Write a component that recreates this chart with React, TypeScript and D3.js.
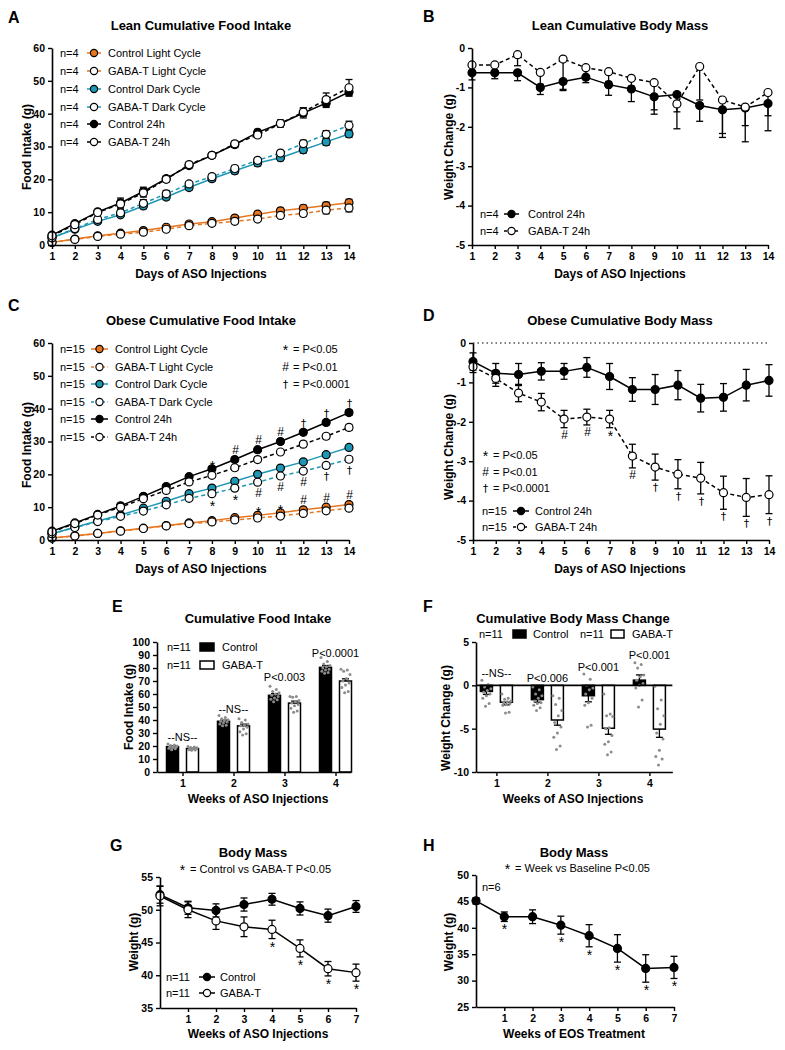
import React, { useEffect, useRef } from "react";
import * as d3 from "d3";

const FONT = "Arial, 'Liberation Sans', Helvetica, sans-serif";
const ORANGE = "#E8761F";
const TEAL = "#1E97B4";
const DOT = "#8c8c8c";

// ---- shared categories ----
const days = [1, 2, 3, 4, 5, 6, 7, 8, 9, 10, 11, 12, 13, 14];
const weeks4 = [1, 2, 3, 4];
const weeks8 = [0, 1, 2, 3, 4, 5, 6, 7];

// ---- A: lean cumulative food intake ----
const aCtrlLight = [0.8, 1.8, 2.8, 3.6, 4.4, 5.4, 6.4, 7.1, 8.2, 9.4, 10.4, 11.2, 12.0, 12.9];
const aCtrlLightErr = [0.2, 0.3, 0.3, 0.4, 0.4, 0.5, 0.5, 0.5, 0.7, 0.8, 0.8, 0.9, 1.0, 1.0];
const aGabaLight = [0.8, 1.7, 2.6, 3.3, 3.9, 4.8, 5.9, 6.6, 7.2, 7.9, 9.0, 9.6, 10.6, 11.3];
const aGabaLightErr = [0.2, 0.3, 0.4, 0.5, 0.5, 0.6, 0.6, 0.6, 0.7, 0.7, 0.8, 0.9, 1.1, 1.2];
const aCtrlDark = [2.2, 4.8, 7.2, 9.2, 11.9, 14.6, 17.5, 20.2, 22.6, 25.0, 26.6, 29.0, 31.4, 33.8];
const aCtrlDarkErr = [0.3, 0.4, 0.6, 0.8, 0.8, 0.8, 0.7, 0.8, 0.9, 0.9, 0.9, 1.0, 1.0, 1.0];
const aGabaDark = [2.2, 5.0, 7.8, 9.8, 12.7, 15.6, 18.6, 20.8, 23.3, 25.8, 28.0, 30.9, 33.7, 36.4];
const aGabaDarkErr = [0.3, 0.5, 0.7, 1.0, 1.1, 1.0, 0.7, 0.8, 0.9, 0.8, 0.8, 1.0, 1.1, 1.3];
const aCtrl24 = [3.0, 6.5, 10.1, 12.8, 16.3, 20.2, 24.2, 27.3, 30.6, 34.3, 37.0, 40.2, 43.2, 46.6];
const aCtrl24Err = [0.5, 0.6, 0.7, 1.5, 1.3, 0.9, 0.7, 0.7, 0.9, 0.9, 1.1, 1.5, 1.3, 1.2];
const aGaba24 = [2.8, 6.2, 9.9, 12.5, 15.9, 20.0, 24.5, 27.3, 30.8, 33.5, 37.0, 40.5, 44.3, 47.9];
const aGaba24Err = [0.4, 0.5, 0.6, 1.2, 1.3, 0.8, 0.7, 0.7, 0.8, 0.7, 0.8, 1.3, 2.0, 2.5];

// ---- B: lean body mass change ----
const bCtrl = [-0.63, -0.63, -0.63, -1.0, -0.85, -0.74, -0.93, -1.04, -1.24, -1.18, -1.46, -1.57, -1.52, -1.41];
const bCtrlErr = [0.18, 0.15, 0.2, 0.18, 0.2, 0.14, 0.27, 0.32, 0.44, 0.87, 0.4, 0.7, 0.86, 0.31];
const bGaba = [-0.43, -0.43, -0.17, -0.62, -0.28, -0.5, -0.6, -0.77, -0.88, -1.42, -0.47, -1.32, -1.5, -1.13];
const bGabaErr = [0.2, 0.15, 0.28, 0.3, 0.8, 0.2, 0.25, 0.2, 0.69, 0.2, 0.85, 0.85, 0.47, 0.97];

// ---- C: obese cumulative food intake ----
const cCtrlLight = [0.6, 1.3, 2.0, 2.8, 3.6, 4.4, 5.2, 5.9, 6.8, 7.5, 8.3, 9.2, 10.0, 10.8];
const cCtrlLightErr = [0.1, 0.2, 0.2, 0.3, 0.3, 0.3, 0.3, 0.3, 0.3, 0.3, 0.4, 0.4, 0.4, 0.4];
const cGabaLight = [0.6, 1.2, 2.0, 2.7, 3.5, 4.3, 5.0, 5.5, 6.1, 6.7, 7.3, 8.1, 8.9, 9.7];
const cGabaLightErr = [0.1, 0.2, 0.2, 0.3, 0.3, 0.3, 0.3, 0.3, 0.3, 0.3, 0.4, 0.4, 0.4, 0.4];
const cCtrlDark = [1.9, 3.9, 5.8, 7.6, 9.7, 11.8, 14.1, 15.8, 17.9, 20.0, 21.9, 23.8, 26.0, 28.2];
const cCtrlDarkErr = [0.2, 0.3, 0.3, 0.4, 0.4, 0.4, 0.4, 0.5, 0.5, 0.5, 0.5, 0.6, 0.6, 0.6];
const cGabaDark = [1.9, 3.8, 5.6, 7.2, 8.8, 10.7, 12.7, 14.1, 15.8, 17.6, 19.5, 21.0, 22.7, 24.6];
const cGabaDarkErr = [0.2, 0.3, 0.3, 0.4, 0.4, 0.4, 0.5, 0.5, 0.6, 0.6, 0.6, 0.7, 0.7, 0.8];
const cCtrl24 = [2.7, 5.2, 7.8, 10.4, 13.3, 16.3, 19.3, 21.7, 24.5, 27.5, 30.0, 32.8, 35.8, 38.8];
const cCtrl24Err = [0.2, 0.3, 0.4, 0.4, 0.5, 0.5, 0.5, 0.6, 0.6, 0.6, 0.7, 0.7, 0.7, 0.8];
const cGaba24 = [2.5, 5.0, 7.6, 10.0, 12.6, 15.1, 17.7, 19.7, 22.0, 24.5, 26.8, 29.2, 31.6, 34.3];
const cGaba24Err = [0.2, 0.3, 0.4, 0.5, 0.5, 0.6, 0.6, 0.6, 0.7, 0.7, 0.7, 0.8, 0.8, 0.9];

// ---- D: obese body mass change ----
const dCtrl = [-0.47, -0.77, -0.8, -0.72, -0.72, -0.62, -0.85, -1.18, -1.18, -1.07, -1.4, -1.38, -1.07, -0.95];
const dCtrlErr = [0.22, 0.25, 0.28, 0.22, 0.2, 0.25, 0.33, 0.3, 0.38, 0.37, 0.35, 0.35, 0.4, 0.4];
const dGaba = [-0.6, -0.9, -1.27, -1.5, -1.93, -1.88, -1.93, -2.87, -3.15, -3.33, -3.43, -3.8, -3.92, -3.85];
const dGabaErr = [0.15, 0.2, 0.22, 0.22, 0.22, 0.2, 0.22, 0.3, 0.33, 0.37, 0.4, 0.42, 0.48, 0.48];

// ---- E: cumulative food intake, weekly ----
const eCtrl = [19.5, 39, 59, 80.5];
const eCtrlSem = [0.6, 0.9, 1.3, 1.4];
const eGaba = [18, 35.5, 53, 70];
const eGabaSem = [0.4, 1.3, 1.5, 1.7];
const eCtrlPts = [
  [21.5, 20.8, 20.3, 20, 19.6, 19.3, 19, 18.6, 18.2, 17.8, 17.2],
  [43.5, 42, 41, 40.2, 39.6, 39, 38.4, 37.8, 37, 36, 35.5],
  [66, 63.5, 62, 61, 60, 59, 58, 57, 56, 55.5, 54],
  [88, 85, 83, 82, 81, 80, 79, 78.5, 77.5, 76.5, 76],
];
const eGabaPts = [
  [19.6, 19.2, 18.9, 18.6, 18.3, 18, 17.8, 17.5, 17.2, 17, 16.7],
  [41, 40, 38, 37, 36, 35.5, 34.5, 33, 31, 29.5, 28.5],
  [58, 58, 57.5, 55, 54, 53, 52, 51, 49, 47, 46],
  [79, 78.5, 77.5, 75, 72, 70, 68.5, 67, 65, 62, 61],
];
const eNotes = ["--NS--", "--NS--", "P<0.003", "P<0.0001"];

// ---- F: cumulative body mass change, weekly ----
const fCtrl = [-0.7, -1.65, -1.2, 0.6];
const fCtrlSem = [0.35, 0.3, 0.7, 0.6];
const fGaba = [-1.95, -4.0, -4.95, -5.05];
const fGabaSem = [0.3, 0.6, 0.7, 0.95];
const fCtrlPts = [
  [0.6, 0.1, -0.2, -0.4, -0.6, -0.8, -1.0, -1.2, -1.5, -2.1, -2.4],
  [-0.2, -0.5, -1.0, -1.2, -1.5, -1.8, -2.0, -2.1, -2.3, -2.6, -2.9],
  [1.3, 0.7, 0.0, -0.3, -0.5, -1.0, -1.5, -2.0, -2.3, -4.6, -4.8],
  [2.6, 2.4, 2.0, 1.2, 1.0, 0.6, 0.2, 0.0, -0.3, -1.7, -2.5],
];
const fGabaPts = [
  [-1.0, -1.5, -1.6, -1.8, -1.9, -2.0, -2.1, -2.2, -2.3, -3.1, -3.2],
  [-1.2, -1.5, -2.2, -2.9, -3.5, -4.3, -4.8, -5.5, -6.0, -7.0, -7.4],
  [-1.0, -3.3, -3.5, -3.6, -4.9, -5.0, -5.8, -6.5, -6.8, -7.7, -8.0],
  [-0.1, -1.7, -2.7, -3.5, -4.5, -5.5, -6.2, -7.5, -8.2, -8.5, -9.2],
];
const fNotes = ["--NS--", "P<0.006", "P<0.001", "P<0.001"];

// ---- G: body mass, ASO ----
const gCtrl = [52.3, 50.3, 49.9, 50.8, 51.6, 50.2, 49.1, 50.5];
const gCtrlErr = [1.3, 1.0, 1.0, 1.0, 0.9, 1.0, 1.0, 0.9];
const gGaba = [52.1, 50.0, 48.3, 47.4, 47.0, 44.1, 41.0, 40.4];
const gGabaErr = [1.5, 1.2, 1.3, 1.5, 1.4, 1.3, 1.1, 1.3];

// ---- H: body mass, EOS ----
const hVals = [45.1, 42.1, 42.1, 40.5, 38.5, 36.1, 32.3, 32.5];
const hErr = [0.6, 0.9, 1.3, 1.7, 2.1, 2.6, 2.6, 2.1];

type Series = { n: string; label: string; values: number[]; err: number[]; color: string; open: boolean; dashed: boolean };
type Mark = { s: number; x: number; sym: string; pos: "above" | "below" };

const lineSeries = (
  n: string,
  light: number[][],
  dark: number[][],
  h24: number[][]
): Series[] => [
  { n, label: "Control Light Cycle", values: light[0], err: light[1], color: ORANGE, open: false, dashed: false },
  { n, label: "GABA-T Light Cycle", values: light[2], err: light[3], color: ORANGE, open: true, dashed: true },
  { n, label: "Control Dark Cycle", values: dark[0], err: dark[1], color: TEAL, open: false, dashed: false },
  { n, label: "GABA-T Dark Cycle", values: dark[2], err: dark[3], color: TEAL, open: true, dashed: true },
  { n, label: "Control 24h", values: h24[0], err: h24[1], color: "#000", open: false, dashed: false },
  { n, label: "GABA-T 24h", values: h24[2], err: h24[3], color: "#000", open: true, dashed: true },
];

const seriesA = lineSeries(
  "n=4",
  [aCtrlLight, aCtrlLightErr, aGabaLight, aGabaLightErr],
  [aCtrlDark, aCtrlDarkErr, aGabaDark, aGabaDarkErr],
  [aCtrl24, aCtrl24Err, aGaba24, aGaba24Err]
);
const seriesC = lineSeries(
  "n=15",
  [cCtrlLight, cCtrlLightErr, cGabaLight, cGabaLightErr],
  [cCtrlDark, cCtrlDarkErr, cGabaDark, cGabaDarkErr],
  [cCtrl24, cCtrl24Err, cGaba24, cGaba24Err]
);
const pair = (n: string, c: number[], ce: number[], g: number[], ge: number[], lc: string, lg: string, dashed = true): Series[] => [
  { n, label: lc, values: c, err: ce, color: "#000", open: false, dashed: false },
  { n, label: lg, values: g, err: ge, color: "#000", open: true, dashed },
];
const seriesB = pair("n=4", bCtrl, bCtrlErr, bGaba, bGabaErr, "Control 24h", "GABA-T 24h");
const seriesD = pair("n=15", dCtrl, dCtrlErr, dGaba, dGabaErr, "Control 24h", "GABA-T 24h");
const seriesG = pair("n=11", gCtrl, gCtrlErr, gGaba, gGabaErr, "Control", "GABA-T", false);
const seriesH: Series[] = [{ n: "n=6", label: "", values: hVals, err: hErr, color: "#000", open: false, dashed: false }];

const marksC: Mark[] = [
  { s: 4, x: 8, sym: "*", pos: "above" }, { s: 4, x: 9, sym: "#", pos: "above" }, { s: 4, x: 10, sym: "#", pos: "above" },
  { s: 4, x: 11, sym: "#", pos: "above" }, { s: 4, x: 12, sym: "†", pos: "above" }, { s: 4, x: 13, sym: "†", pos: "above" },
  { s: 4, x: 14, sym: "†", pos: "above" },
  { s: 3, x: 8, sym: "*", pos: "below" }, { s: 3, x: 9, sym: "*", pos: "below" }, { s: 3, x: 10, sym: "#", pos: "below" },
  { s: 3, x: 11, sym: "#", pos: "below" }, { s: 3, x: 12, sym: "#", pos: "below" }, { s: 3, x: 13, sym: "†", pos: "below" },
  { s: 3, x: 14, sym: "†", pos: "below" },
  { s: 0, x: 10, sym: "*", pos: "above" }, { s: 0, x: 11, sym: "*", pos: "above" }, { s: 0, x: 12, sym: "#", pos: "above" },
  { s: 0, x: 13, sym: "#", pos: "above" }, { s: 0, x: 14, sym: "#", pos: "above" },
];
const marksD: Mark[] = [
  { s: 1, x: 5, sym: "#", pos: "below" }, { s: 1, x: 6, sym: "#", pos: "below" }, { s: 1, x: 7, sym: "*", pos: "below" },
  { s: 1, x: 8, sym: "#", pos: "below" }, { s: 1, x: 9, sym: "†", pos: "below" }, { s: 1, x: 10, sym: "†", pos: "below" },
  { s: 1, x: 11, sym: "†", pos: "below" }, { s: 1, x: 12, sym: "†", pos: "below" }, { s: 1, x: 13, sym: "†", pos: "below" },
  { s: 1, x: 14, sym: "†", pos: "below" },
];
const marksG: Mark[] = [4, 5, 6, 7].map((x) => ({ s: 1, x, sym: "*", pos: "below" as const }));
const marksH: Mark[] = [1, 3, 4, 5, 6, 7].map((x) => ({ s: 0, x, sym: "*", pos: "below" as const }));
const sigKey = [
  { sym: "*", text: "= P<0.05" },
  { sym: "#", text: "= P<0.01" },
  { sym: "†", text: "= P<0.0001" },
];

// ---- scales ----
const xA = d3.scaleLinear().domain([1, 14]).range([52, 349]);
const yA = d3.scaleLinear().domain([0, 60]).range([245, 48]);
const xB = d3.scaleLinear().domain([1, 14]).range([472, 768]);
const yB = d3.scaleLinear().domain([-5, 0]).range([245, 48]);
const xC = d3.scaleLinear().domain([1, 14]).range([52, 349]);
const yC = d3.scaleLinear().domain([0, 60]).range([540, 343]);
const xD = d3.scaleLinear().domain([1, 14]).range([473, 769]);
const yD = d3.scaleLinear().domain([-5, 0]).range([540, 343]);
const xE = d3.scaleLinear().domain([0.5, 4.3]).range([157, 350.8]);
const yE = d3.scaleLinear().domain([0, 100]).range([772, 642]);
const xF = d3.scaleLinear().domain([0.6, 4.45]).range([476, 672.35]);
const yF = d3.scaleLinear().domain([-10, 5]).range([772, 642]);
const xG = d3.scaleLinear().domain([0, 7]).range([160, 356]);
const yG = d3.scaleLinear().domain([35, 55]).range([1008, 877]);
const xH = d3.scaleLinear().domain([0, 7]).range([476, 674]);
const yH = d3.scaleLinear().domain([25, 50]).range([1007, 875]);

function Axis({ scale, side, x = 0, y = 0, ticks }: any) {
  const ref = useRef<SVGGElement>(null);
  useEffect(() => {
    const ax = side === "left" ? d3.axisLeft(scale) : d3.axisBottom(scale);
    ax.tickValues(ticks).tickSizeOuter(0).tickSizeInner(4).tickPadding(side === "left" ? 3 : 4)
      .tickFormat((d: any) => String(d));
    const g = d3.select(ref.current!);
    g.call(ax as any);
    g.attr("font-family", null).attr("font-size", null);
    g.select(".domain").attr("stroke-width", 1.6);
    g.selectAll(".tick line").attr("stroke-width", 1.4);
    g.selectAll(".tick text")
      .attr("font-weight", "bold").attr("font-size", 10.5).attr("font-family", FONT).attr("fill", "#000");
  }, [scale, side, ticks]);
  return <g ref={ref} transform={`translate(${x},${y})`} />;
}

const symSize = (s: string) => (s === "*" ? 14 : 12);

// significance glyph; the dagger uses DejaVu so it renders as a solid black mark
const Sym = ({ x, y, s }: any) => (
  <text x={Math.round(x) + 0.5} y={y} textAnchor="middle" fontSize={s === "†" ? 11 : symSize(s)}
    fontFamily={s === "†" ? "'DejaVu Sans', sans-serif" : undefined}>{s}</text>
);

function LinePlot({ xs, ys, xVals, series, dir = "both", marks = [] }: any) {
  const line = (vals: number[]) =>
    d3.line<number>().x((_, i) => xs(xVals[i])).y((d) => ys(d))(vals) || "";
  return (
    <g>
      {series.map((s: Series, k: number) => (
        <path key={"l" + k} d={line(s.values)} fill="none" stroke={s.color} strokeWidth={1.5}
          strokeDasharray={s.dashed ? "4,3" : undefined} />
      ))}
      {series.map((s: Series, k: number) => (
        <g key={"e" + k} stroke="#000" strokeWidth={1.3}>
          {s.values.map((v, i) => {
            const x = xs(xVals[i]);
            const top = dir === "down" ? ys(v) : ys(v + s.err[i]);
            const bot = ys(v - s.err[i]);
            return (
              <g key={i}>
                <line x1={x} x2={x} y1={top} y2={bot} />
                <line x1={x - 3.5} x2={x + 3.5} y1={bot} y2={bot} />
                {dir !== "down" && <line x1={x - 3.5} x2={x + 3.5} y1={top} y2={top} />}
              </g>
            );
          })}
        </g>
      ))}
      {series.map((s: Series, k: number) => (
        <g key={"m" + k}>
          {s.values.map((v, i) => (
            <circle key={i} cx={xs(xVals[i])} cy={ys(v)} r={4} fill={s.open ? "#fff" : s.color}
              stroke="#000" strokeWidth={1.2} />
          ))}
        </g>
      ))}
      {marks.map((m: Mark, k: number) => {
        const s: Series = series[m.s];
        const i = xVals.indexOf(m.x);
        const v = s.values[i], e = s.err[i];
        let y: number;
        if (m.pos === "below") {
          const b = Math.max(ys(v - e), ys(v) + 4);
          y = b + (m.sym === "*" ? 13 : 11);
        } else {
          const t = Math.min(ys(v + e), ys(v) - 4);
          y = m.sym === "*" ? t + 6 : t - 1.5;
        }
        return <Sym key={"s" + k} x={xs(m.x)} y={y} s={m.sym} />;
      })}
    </g>
  );
}

function LineKey({ series, rows, nx, x1, x2, lx }: any) {
  const cx = (x1 + x2) / 2;
  return (
    <g fontSize={11}>
      {series.map((s: Series, k: number) => (
        <g key={k}>
          <text x={nx} y={rows[k] + 4}>{s.n}</text>
          <line x1={x1} x2={x2} y1={rows[k]} y2={rows[k]} stroke={s.color} strokeWidth={1.5}
            strokeDasharray={s.dashed ? "3,2.5" : undefined} />
          <circle cx={cx} cy={rows[k]} r={3.6} fill={s.open ? "#fff" : s.color} stroke="#000" strokeWidth={1.2} />
          <text x={lx} y={rows[k] + 4}>{s.label}</text>
        </g>
      ))}
    </g>
  );
}

function SigKey({ x, rows }: any) {
  return (
    <g fontSize={11}>
      {sigKey.map((k, i) => (
        <g key={i}>
          <Sym x={x} y={rows[i] + (k.sym === "*" ? 6 : 4)} s={k.sym} />
          <text x={x + 8} y={rows[i] + 4}>{k.text}</text>
        </g>
      ))}
    </g>
  );
}

function BarPlot({ xs, ys, ctrl, ctrlSem, gaba, gabaSem, ctrlPts, gabaPts, notes, noteYs }: any) {
  const base = ys(0);
  const off = 10;
  const bw = 12;
  const groups = [
    { vals: ctrl, sem: ctrlSem, pts: ctrlPts, dx: -off, fill: "#000" },
    { vals: gaba, sem: gabaSem, pts: gabaPts, dx: off, fill: "#fff" },
  ];
  return (
    <g>
      {groups.map((g, k) => (
        <g key={k}>
          {weeks4.map((w, i) => {
            const cx = xs(w) + g.dx;
            const v = g.vals[i];
            const y0 = Math.min(ys(v), base);
            const h = Math.abs(ys(v) - base);
            const tip = ys(v + (v >= 0 ? g.sem[i] : -g.sem[i]));
            return (
              <g key={i}>
                <rect x={cx - bw / 2} y={y0} width={bw} height={h} fill={g.fill} stroke="#000" strokeWidth={1.5} />
                <line x1={cx} x2={cx} y1={ys(v)} y2={tip} stroke="#000" strokeWidth={1.3} />
                <line x1={cx - 3.5} x2={cx + 3.5} y1={tip} y2={tip} stroke="#000" strokeWidth={1.3} />
                {g.pts[i].map((p: number, j: number) => (
                  <circle key={j} cx={cx + (((j * 7) % 11) - 5) * 0.9} cy={ys(p)} r={1.5} fill={DOT} />
                ))}
              </g>
            );
          })}
        </g>
      ))}
      {notes.map((t: string, i: number) => (
        <text key={"n" + i} x={xs(weeks4[i])} y={noteYs[i]} textAnchor="middle" fontSize={11}>
          {t}
        </text>
      ))}
    </g>
  );
}

const Title = ({ x, y, children, size = 13 }: any) => (
  <text x={x} y={y} textAnchor="middle" fontWeight="bold" fontSize={size}>{children}</text>
);
const Letter = ({ x, y, children }: any) => (
  <text x={x} y={y} fontWeight="bold" fontSize={16}>{children}</text>
);
const YLabel = ({ x, y, children }: any) => (
  <text transform={`translate(${x},${y}) rotate(-90)`} textAnchor="middle" fontWeight="bold" fontSize={12}>
    {children}
  </text>
);

export default function App() {
  return (
    <svg width={785} height={1050} style={{ position: "absolute", left: 0, top: 0, background: "#fff" }}
      fontFamily={FONT} fill="#000">
      {/* A */}
      <Letter x={8} y={23}>A</Letter>
      <Title x={201} y={30}>Lean Cumulative Food Intake</Title>
      <LinePlot xs={xA} ys={yA} xVals={days} series={seriesA} />
      <Axis scale={yA} side="left" x={52} ticks={yA.ticks(6)} />
      <Axis scale={xA} side="bottom" y={245} ticks={days} />
      <YLabel x={31} y={147}>Food Intake (g)</YLabel>
      <Title x={201} y={278} size={12}>Days of ASO Injections</Title>
      <LineKey series={seriesA} rows={[53, 71, 89, 107, 124, 142]} nx={60} x1={87} x2={101} lx={108} />

      {/* B */}
      <Letter x={423} y={22}>B</Letter>
      <Title x={620} y={30}>Lean Cumulative Body Mass</Title>
      <LinePlot xs={xB} ys={yB} xVals={days} series={seriesB} dir="down" />
      <Axis scale={yB} side="left" x={472} ticks={yB.ticks(5)} />
      <Axis scale={xB} side="bottom" y={245} ticks={days} />
      <YLabel x={453} y={147}>Weight Change (g)</YLabel>
      <Title x={620} y={278} size={12}>Days of ASO Injections</Title>
      <LineKey series={seriesB} rows={[214, 231]} nx={480} x1={504} x2={519} lx={528} />

      {/* C */}
      <Letter x={8} y={311}>C</Letter>
      <Title x={201} y={325}>Obese Cumulative Food Intake</Title>
      <LinePlot xs={xC} ys={yC} xVals={days} series={seriesC} marks={marksC} />
      <Axis scale={yC} side="left" x={52} ticks={yC.ticks(6)} />
      <Axis scale={xC} side="bottom" y={540} ticks={days} />
      <YLabel x={31} y={445}>Food Intake (g)</YLabel>
      <Title x={201} y={573} size={12}>Days of ASO Injections</Title>
      <LineKey series={seriesC} rows={[349, 367, 384, 402, 419, 437]} nx={60} x1={91} x2={108} lx={115} />
      <SigKey x={285} rows={[349, 367, 384]} />

      {/* D */}
      <Letter x={423} y={321}>D</Letter>
      <Title x={620} y={325}>Obese Cumulative Body Mass</Title>
      <line x1={473} x2={769} y1={yD(0)} y2={yD(0)} stroke="#000" strokeWidth={1.2} strokeDasharray="1.5,3" />
      <LinePlot xs={xD} ys={yD} xVals={days} series={seriesD} marks={marksD} />
      <Axis scale={yD} side="left" x={473} ticks={yD.ticks(5)} />
      <Axis scale={xD} side="bottom" y={540} ticks={days} />
      <YLabel x={453} y={447}>Weight Change (g)</YLabel>
      <Title x={620} y={573} size={12}>Days of ASO Injections</Title>
      <SigKey x={485} rows={[455, 472, 488]} />
      <LineKey series={seriesD} rows={[511, 527]} nx={482} x1={513} x2={529} lx={535} />

      {/* E */}
      <Letter x={112} y={612}>E</Letter>
      <Title x={258} y={623}>Cumulative Food Intake</Title>
      <BarPlot xs={xE} ys={yE} ctrl={eCtrl} ctrlSem={eCtrlSem} gaba={eGaba} gabaSem={eGabaSem}
        ctrlPts={eCtrlPts} gabaPts={eGabaPts} notes={eNotes} noteYs={[741, 713, 681, 657]} />
      <Axis scale={yE} side="left" x={157} ticks={yE.ticks(10)} />
      <Axis scale={xE} side="bottom" y={772} ticks={weeks4} />
      <YLabel x={133} y={707}>Food Intake (g)</YLabel>
      <Title x={258} y={803} size={12}>Weeks of ASO Injections</Title>
      <g fontSize={11}>
        <text x={167} y={651}>n=11</text>
        <rect x={200} y={643} width={14} height={8} fill="#000" stroke="#000" strokeWidth={1.5} />
        <text x={222} y={651}>Control</text>
        <text x={167} y={669}>n=11</text>
        <rect x={200} y={661} width={14} height={8} fill="#fff" stroke="#000" strokeWidth={1.5} />
        <text x={222} y={669}>GABA-T</text>
      </g>

      {/* F */}
      <Letter x={423} y={612}>F</Letter>
      <Title x={573} y={623}>Cumulative Body Mass Change</Title>
      <BarPlot xs={xF} ys={yF} ctrl={fCtrl} ctrlSem={fCtrlSem} gaba={fGaba} gabaSem={fGabaSem}
        ctrlPts={fCtrlPts} gabaPts={fGabaPts} notes={fNotes} noteYs={[677, 682, 671, 659]} />
      <line x1={476} x2={672.35} y1={yF(0)} y2={yF(0)} stroke="#000" strokeWidth={1.6} />
      <Axis scale={yF} side="left" x={476} ticks={[5, 0, -5, -10]} />
      <Axis scale={xF} side="bottom" y={772} ticks={weeks4} />
      <YLabel x={450} y={718}>Weight Change (g)</YLabel>
      <Title x={573} y={803} size={12}>Weeks of ASO Injections</Title>
      <g fontSize={11}>
        <text x={479} y={638}>n=11</text>
        <rect x={513} y={630} width={13} height={8} fill="#000" stroke="#000" strokeWidth={1.5} />
        <text x={533} y={638}>Control</text>
        <text x={580} y={638}>n=11</text>
        <rect x={611} y={630} width={13} height={8} fill="#fff" stroke="#000" strokeWidth={1.5} />
        <text x={632} y={638}>GABA-T</text>
      </g>

      {/* G */}
      <Letter x={110} y={851}>G</Letter>
      <Title x={253} y={857}>Body Mass</Title>
      <Sym x={182} y={875} s="*" />
      <text x={190} y={873} fontSize={11}>=  Control vs GABA-T P&lt;0.05</text>
      <LinePlot xs={xG} ys={yG} xVals={weeks8} series={seriesG} marks={marksG} />
      <Axis scale={yG} side="left" x={160} ticks={yG.ticks(5)} />
      <Axis scale={xG} side="bottom" y={1008} ticks={weeks8.slice(1)} />
      <YLabel x={138} y={942}>Weight (g)</YLabel>
      <Title x={258} y={1038} size={12}>Weeks of ASO Injections</Title>
      <LineKey series={seriesG} rows={[977, 993]} nx={166} x1={199} x2={215} lx={220} />

      {/* H */}
      <Letter x={423} y={851}>H</Letter>
      <Title x={574} y={857}>Body Mass</Title>
      <Sym x={507} y={874} s="*" />
      <text x={515} y={872} fontSize={11}>= Week vs Baseline P&lt;0.05</text>
      <LinePlot xs={xH} ys={yH} xVals={weeks8} series={seriesH} marks={marksH} />
      <Axis scale={yH} side="left" x={476} ticks={yH.ticks(5)} />
      <Axis scale={xH} side="bottom" y={1007} ticks={weeks8.slice(1)} />
      <YLabel x={453} y={942}>Weight (g)</YLabel>
      <Title x={574} y={1038} size={12}>Weeks of EOS Treatment</Title>
      <text x={482} y={891} fontSize={11}>n=6</text>
    </svg>
  );
}
